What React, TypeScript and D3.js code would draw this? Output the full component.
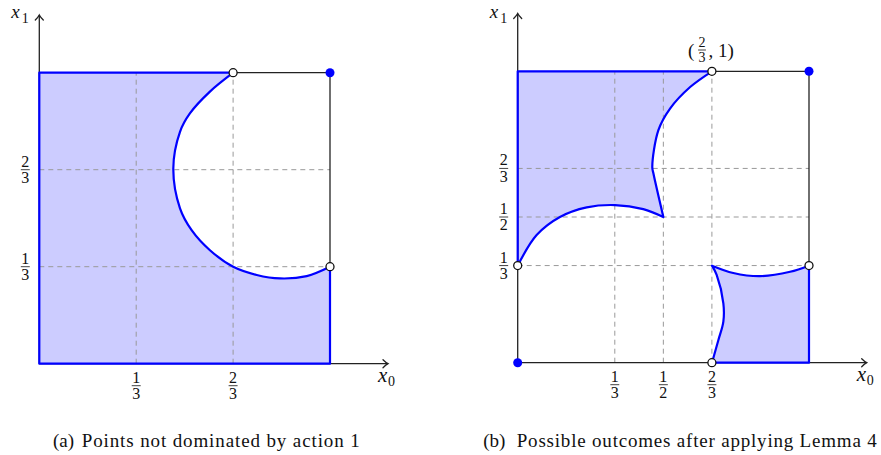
import React from "react";
import * as d3 from "d3";

// ---------- data (unit-square coordinates [x0, x1]) ----------
// Panel (a): boundary arc of points not dominated by action 1
const arcA: [number, number][] = [
  [0.667, 1.0], [0.587, 0.935], [0.518, 0.86], [0.484, 0.797], [0.461, 0.671],
  [0.484, 0.534], [0.524, 0.459], [0.587, 0.39], [0.667, 0.333], [0.748, 0.305],
  [0.828, 0.293], [0.92, 0.301], [1.0, 0.333],
];
// Panel (b): upper-left region boundary
const arcBTop: [number, number][] = [
  [0.667, 1.0], [0.592, 0.946], [0.523, 0.872], [0.483, 0.798], [0.462, 0.672],
  [0.466, 0.649], [0.5, 0.5],
];
const arcBInner: [number, number][] = [
  [0.5, 0.5], [0.431, 0.527], [0.334, 0.541], [0.237, 0.533], [0.145, 0.5],
  [0.065, 0.438], [0.0, 0.333],
];
// Panel (b): lower-right region boundary
const arcBLowLeft: [number, number][] = [
  [0.667, 0.333], [0.683, 0.301], [0.706, 0.204], [0.706, 0.141], [0.689, 0.078],
  [0.667, 0.0],
];
const arcBLowTop: [number, number][] = [
  [1.0, 0.333], [0.935, 0.312], [0.832, 0.297], [0.74, 0.308], [0.667, 0.333],
];

const gridA = [1 / 3, 2 / 3];
const gridB = [1 / 3, 1 / 2, 2 / 3];
const ticksA: [number, number][] = [[1, 3], [2, 3]];
const ticksB: [number, number][] = [[1, 3], [1, 2], [2, 3]];
const openPtsA: [number, number][] = [[2 / 3, 1], [1, 1 / 3]];
const fullPtsA: [number, number][] = [[1, 1]];
const openPtsB: [number, number][] = [[2 / 3, 1], [0, 1 / 3], [1, 1 / 3], [2 / 3, 0]];
const fullPtsB: [number, number][] = [[1, 1], [0, 0]];
const captionA = ["(a)", "Points not dominated by action 1"];
const captionB = ["(b)", "Possible outcomes after applying Lemma 4"];

const SERIF = "Liberation Serif, Times New Roman, DejaVu Serif, serif";
const BLUE = "#0000ff";
const FILL = "#ccccff";
const INK = "#222";

function Frac({ x, y, num, den, size }: { x: number; y: number; num: number; den: number; size: number }) {
  const w = size * 0.56;
  return (
    <g fontFamily={SERIF} fontSize={size} textAnchor="middle" fill="#111">
      <text x={x} y={y - 3}>{num}</text>
      <line x1={x - w / 2} x2={x + w / 2} y1={y} y2={y} stroke="#111" strokeWidth={0.8} />
      <text x={x} y={y + size * 0.84}>{den}</text>
    </g>
  );
}

function Arrow({ x, y, dir }: { x: number; y: number; dir: "right" | "up" }) {
  const d =
    dir === "right"
      ? `M${x - 5},${y - 4} Q${x - 2},${y - 1} ${x},${y} Q${x - 2},${y + 1} ${x - 5},${y + 4}`
      : `M${x - 4},${y + 5} Q${x - 1},${y + 2} ${x},${y} Q${x + 1},${y + 2} ${x + 4},${y + 5}`;
  return <path d={d} fill="none" stroke={INK} strokeWidth={1.3} strokeLinecap="round" />;
}

type PanelProps = {
  xr: [number, number];
  yr: [number, number];
  xEnd: number;
  yEnd: number;
  grid: number[];
  ticks: [number, number][];
  openPts: [number, number][];
  fullPts: [number, number][];
  regionBuilder: (x: d3.ScaleLinear<number, number>, y: d3.ScaleLinear<number, number>) => string[];
  caption: string[];
  capX: number;
  capTextX: number;
  capLen: number;
};

function Panel(p: PanelProps) {
  const x = d3.scaleLinear().domain([0, 1]).range(p.xr);
  const y = d3.scaleLinear().domain([0, 1]).range(p.yr);
  const paths = p.regionBuilder(x, y);
  return (
    <g>
      {paths.map((d, i) => (
        <path key={"f" + i} d={d} fill={FILL} stroke="none" />
      ))}
      {p.grid.map((g, i) => (
        <g key={"g" + i} stroke="#999" strokeWidth={1} strokeDasharray="5,4">
          <line x1={x(g)} x2={x(g)} y1={y(0)} y2={y(1)} />
          <line x1={x(0)} x2={x(1)} y1={y(g)} y2={y(g)} />
        </g>
      ))}
      <g stroke={INK} strokeWidth={1.3} fill="none">
        <line x1={x(0)} x2={p.xEnd} y1={y(0)} y2={y(0)} />
        <line x1={x(0)} x2={x(0)} y1={y(0)} y2={p.yEnd} />
        <line x1={x(2 / 3)} x2={x(1)} y1={y(1)} y2={y(1)} />
        <line x1={x(1)} x2={x(1)} y1={y(1 / 3)} y2={y(1)} />
      </g>
      <Arrow x={p.xEnd} y={y(0)} dir="right" />
      <Arrow x={x(0)} y={p.yEnd} dir="up" />
      {paths.map((d, i) => (
        <path key={"s" + i} d={d} fill="none" stroke={BLUE} strokeWidth={2.2} strokeLinejoin="round" />
      ))}
      {p.fullPts.map((pt, i) => (
        <circle key={"c" + i} cx={x(pt[0])} cy={y(pt[1])} r={4.5} fill={BLUE} />
      ))}
      {p.openPts.map((pt, i) => (
        <circle key={"o" + i} cx={x(pt[0])} cy={y(pt[1])} r={4} fill="#fff" stroke="#111" strokeWidth={1.3} />
      ))}
      {p.ticks.map(([n, dd], i) => (
        <Frac key={"tx" + i} x={x(n / dd)} y={y(0) + 22} num={n} den={dd} size={16} />
      ))}
      {p.ticks.map(([n, dd], i) => (
        <Frac key={"ty" + i} x={x(0) - 14} y={y(n / dd)} num={n} den={dd} size={16} />
      ))}
      <g fontFamily={SERIF} fill="#111">
        <text x={p.xEnd - 10} y={y(0) + 18} fontSize={21} fontStyle="italic">x</text>
        <text x={p.xEnd} y={y(0) + 22} fontSize={14}>0</text>
        <text x={x(0) - 28} y={17.5} fontSize={19} fontStyle="italic">x</text>
        <text x={x(0) - 17.5} y={23} fontSize={14}>1</text>
      </g>
      <g fontFamily={SERIF} fontSize={19} fill="#111">
        <text x={p.capX} y={447}>{p.caption[0]}</text>
        <text x={p.capTextX} y={447} textLength={p.capLen} lengthAdjust="spacing">{p.caption[1]}</text>
      </g>
    </g>
  );
}

function curvePath(pts: [number, number][], x: any, y: any) {
  const gen = d3
    .line<[number, number]>()
    .x((d) => x(d[0]))
    .y((d) => y(d[1]))
    .curve(d3.curveCatmullRom.alpha(0.5));
  return gen(pts) as string;
}

export default function App() {
  const buildA = (x: any, y: any) => {
    const arc = curvePath(arcA, x, y);
    return [`M${x(0)},${y(1)}L${arc.slice(1)}L${x(1)},${y(0)}L${x(0)},${y(0)}Z`];
  };
  const buildB = (x: any, y: any) => {
    const top = curvePath(arcBTop, x, y);
    const inner = curvePath(arcBInner, x, y);
    const lowLeft = curvePath(arcBLowLeft, x, y);
    const lowTop = curvePath(arcBLowTop, x, y);
    return [
      `M${x(0)},${y(1)}L${top.slice(1)}L${inner.slice(1)}Z`,
      `M${lowLeft.slice(1)}L${x(1)},${y(0)}L${x(1)},${y(1 / 3)}L${lowTop.slice(1)}Z`,
    ];
  };
  return (
    <svg width={881} height={455} style={{ position: "absolute", left: 0, top: 0, background: "#fff" }}>
      <Panel
        xr={[39.3, 330]}
        yr={[363.7, 72.7]}
        xEnd={388}
        yEnd={15}
        grid={gridA}
        ticks={ticksA}
        openPts={openPtsA}
        fullPts={fullPtsA}
        regionBuilder={buildA}
        caption={captionA}
        capX={53}
        capTextX={81.7}
        capLen={278}
      />
      <Panel
        xr={[517.7, 809]}
        yr={[362.7, 71.3]}
        xEnd={866.7}
        yEnd={13.5}
        grid={gridB}
        ticks={ticksB}
        openPts={openPtsB}
        fullPts={fullPtsB}
        regionBuilder={buildB}
        caption={captionB}
        capX={483.3}
        capTextX={516.7}
        capLen={360}
      />
      <g fontFamily={SERIF} fontSize={19} fill="#111">
        <text x={688} y={57}>(</text>
        <Frac x={702} y={50} num={2} den={3} size={14} />
        <text x={708.5} y={57}>, 1)</text>
      </g>
    </svg>
  );
}
